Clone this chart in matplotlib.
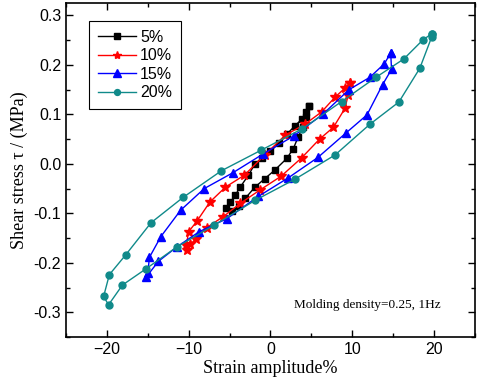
import matplotlib
matplotlib.use("Agg")
import matplotlib.pyplot as plt
import numpy as np
from matplotlib.ticker import MultipleLocator

labels = ["5%", "10%", "15%", "20%"]
colors = ["black", "red", "blue", "#108a8a"]
markers = ["s", "*", "^", "o"]

# 5 %
x5 = [4.7, 4.4, 3.8, 3.0, 2.0, 1.0, 0.0, -1.0, -1.9, -2.7, -3.7, -4.3, -4.9, -5.4,
      -4.7, -3.9, -3.1, -1.9, -0.7, 0.5, 2.0, 2.8, 3.4, 4.0, 4.4, 4.7]
y5 = [0.117, 0.105, 0.09, 0.077, 0.06, 0.042, 0.025, 0.012, 0.0, -0.023, -0.047, -0.063, -0.077, -0.09,
      -0.095, -0.085, -0.07, -0.047, -0.03, -0.013, 0.011, 0.031, 0.055, 0.075, 0.095, 0.117]
# 10 %
x10 = [9.7, 9.1, 7.9, 6.25, 4.2, 1.8, -0.7, -3.2, -5.5, -7.4, -9.0, -10.0, -10.3, -10.2,
       -9.8, -9.1, -7.8, -5.8, -3.7, -1.3, 1.3, 3.8, 6.0, 7.7, 9.1, 9.5, 9.7]
y10 = [0.163, 0.153, 0.135, 0.105, 0.08, 0.058, 0.018, -0.023, -0.047, -0.077, -0.116, -0.137, -0.165, -0.174,
       -0.163, -0.151, -0.129, -0.107, -0.08, -0.053, -0.025, 0.012, 0.05, 0.074, 0.112, 0.139, 0.163]
# 15 %
x15 = [14.7, 13.9, 12.15, 9.6, 6.45, 2.9, -0.9, -4.6, -8.1, -11.0, -13.4, -14.8, -15.0, -15.2,
       -13.7, -11.45, -8.7, -5.35, -1.5, 2.2, 5.8, 9.2, 11.8, 13.7, 14.8, 14.7]
y15 = [0.224, 0.202, 0.175, 0.15, 0.101, 0.057, 0.02, -0.018, -0.05, -0.094, -0.147, -0.189, -0.221, -0.229,
       -0.197, -0.168, -0.137, -0.111, -0.066, -0.028, 0.013, 0.062, 0.099, 0.16, 0.191, 0.224]
# 20 %
x20 = [19.7, 18.6, 16.3, 12.9, 8.7, 3.9, -1.1, -6.0, -10.7, -14.6, -17.7, -19.7, -20.4, -19.8,
       -18.1, -15.2, -11.45, -6.9, -1.9, 3.0, 7.9, 12.15, 15.7, 18.25, 19.7, 19.7]
y20 = [0.263, 0.25, 0.212, 0.175, 0.126, 0.071, 0.028, -0.014, -0.068, -0.119, -0.184, -0.224, -0.268, -0.285,
       -0.245, -0.212, -0.168, -0.124, -0.074, -0.031, 0.018, 0.08, 0.125, 0.193, 0.256, 0.263]

xs = [x5, x10, x15, x20]
ys = [y5, y10, y15, y20]
msizes = [5, 7, 6, 5]

fig = plt.figure(figsize=(4.8, 3.86), dpi=100)
ax = fig.add_axes([0.1375, 0.127, 0.852, 0.865])

for x, y, lab, c, m, ms in zip(xs, ys, labels, colors, markers, msizes):
    ax.plot(x, y, color=c, marker=m, markersize=ms, linewidth=1.0, label=lab)

ax.set_xlim(-25, 25)
ax.set_ylim(-0.35, 0.325)
ax.xaxis.set_major_locator(MultipleLocator(10))
ax.xaxis.set_minor_locator(MultipleLocator(5))
ax.yaxis.set_major_locator(MultipleLocator(0.1))
ax.yaxis.set_minor_locator(MultipleLocator(0.05))
ax.tick_params(which="both", direction="in", top=True, right=True, width=1.0)
ax.tick_params(which="major", length=5, labelsize=11.5)
ax.tick_params(which="minor", length=3)
for lbl in ax.get_xticklabels() + ax.get_yticklabels():
    lbl.set_family("Liberation Sans")
ax.yaxis.set_major_formatter(matplotlib.ticker.FuncFormatter(lambda v, p: f"{v:.1f}"))
for s in ax.spines.values():
    s.set_linewidth(1.2)

ax.set_xlabel("Strain amplitude%", family="Liberation Serif", fontsize=13, labelpad=2)
ax.set_ylabel("Shear stress \u03c4 / (MPa)", family="Liberation Serif", fontsize=13, labelpad=4)

leg = ax.legend(loc="upper left", bbox_to_anchor=(0.056, 0.946), borderaxespad=0,
                prop={"family": "Liberation Sans", "size": 11.5}, fancybox=False,
                edgecolor="black", framealpha=1, handlelength=2.4, labelspacing=0.22,
                borderpad=0.55, handletextpad=0.25, markerscale=0.85)
leg.get_frame().set_linewidth(0.8)

ax.text(0.738, 0.096, "Molding density=0.25, 1Hz", transform=ax.transAxes,
        ha="center", va="center", family="Liberation Serif", fontsize=9.5)

fig.savefig("out.png", dpi=100)
